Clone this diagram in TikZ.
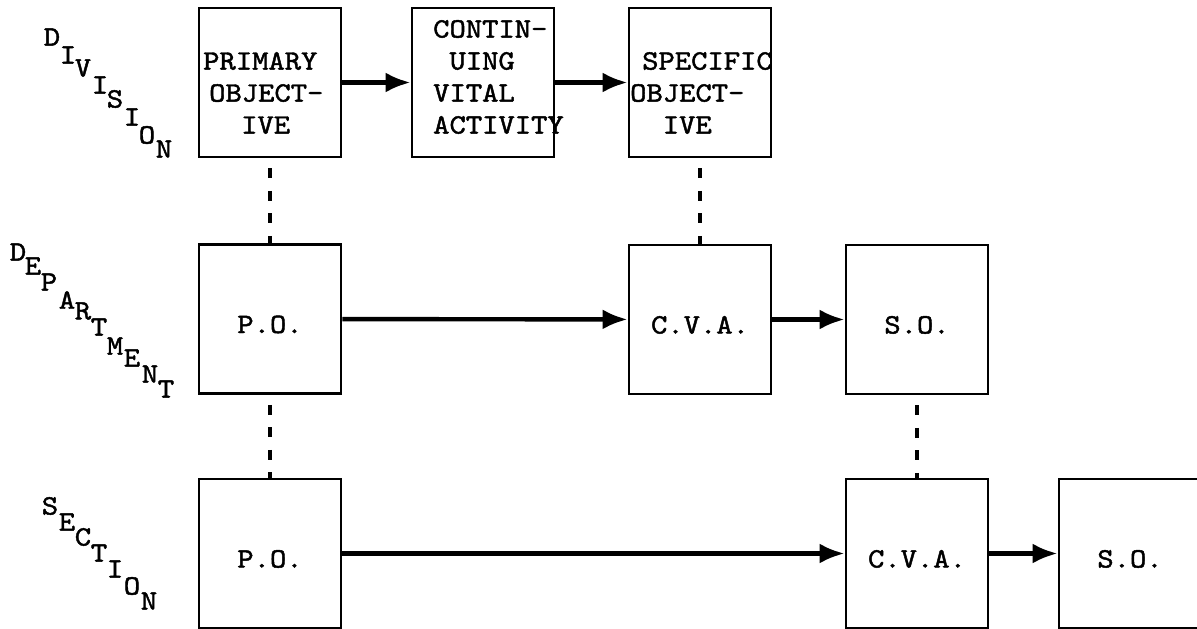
\documentclass[tikz,border=0pt]{standalone}
\usepackage{fontspec}
% typewriter face, widened to a typewriter's pitch and inked heavier
\newfontfamily\tw{lmmono10-regular}[Extension=.otf, FakeStretch=1.11, FakeBold=1.6]
\usetikzlibrary{arrows.meta}

\begin{document}
\begin{tikzpicture}[x=1pt,y=-1pt,
  every node/.style={font=\tw\fontsize{28}{32}\selectfont},
  box/.style={draw, line width=2.8pt, minimum width=142pt, minimum height=149pt,
              inner sep=0pt, align=center},
  lowtext/.style={text height=28pt, text depth=0pt},
  btext/.style={align=left, inner sep=0pt, anchor=west},
  stair/.style={inner sep=0pt},
  flow/.style={line width=4.4pt, -{Latex[length=25pt,width=20pt]}},
  link/.style={line width=3.8pt, dash pattern=on 10pt off 12.5pt, dash phase=12.5pt}
]
\useasboundingbox (0,0) rectangle (1197,629);

% ---- level labels, typed as descending staircases
\node[stair] (dv1) at (52,37)   {D};
\node[stair] (dv2) at (68,55)   {I};
\node[stair] (dv3) at (83,68)   {V};
\node[stair] (dv4) at (100,85)  {I};
\node[stair] (dv5) at (115,99)  {S};
\node[stair] (dv6) at (132,117) {I};
\node[stair] (dv7) at (147,135) {O};
\node[stair] (dv8) at (164,149) {N};

\node[stair] (dp1) at (18,252)  {D};
\node[stair] (dp2) at (33,266)  {E};
\node[stair] (dp3) at (49,282)  {P};
\node[stair] (dp4) at (67,300)  {A};
\node[stair] (dp5) at (83,311)  {R};
\node[stair] (dp6) at (99,327)  {T};
\node[stair] (dp7) at (115,346) {M};
\node[stair] (dp8) at (132,358) {E};
\node[stair] (dp9) at (150,374) {N};
\node[stair] (dp10) at (166,389) {T};

\node[stair] (sc1) at (50,506)  {S};
\node[stair] (sc2) at (67,522)  {E};
\node[stair] (sc3) at (83,537)  {C};
\node[stair] (sc4) at (99,553)  {T};
\node[stair] (sc5) at (115,569) {I};
\node[stair] (sc6) at (132,586) {O};
\node[stair] (sc7) at (149,601) {N};

% ---- division row
\node[box] (dpo)  at (270,82.5) {};
\node[box] (dcva) at (483,82.5) {};
\node[box] (dso)  at (700,82.5) {};
\node[btext] (dpot)  at (203,93) {PRIMARY\\\hspace*{6pt}OBJECT-\\\hspace*{38pt}IVE};
\node[btext] (dcvat) at (433,77) {CONTIN-\\\hspace*{16.3pt}UING\\VITAL\\ACTIVITY};
\node[btext] (dsot)  at (630,93) {\hspace*{12pt}SPECIFIC\\OBJECT-\\\hspace*{32.6pt}IVE};

% ---- department row
\node[box, lowtext] (epo)  at (270,319)   {P.O.};
\node[box, lowtext] (ecva) at (700,319.5) {C.V.A.};
\node[box, lowtext] (eso)  at (917,319.5) {S.O.};

% ---- section row
\node[box, lowtext] (spo)  at (270,553.5)  {P.O.};
\node[box, lowtext] (scva) at (917,553.5)  {C.V.A.};
\node[box, lowtext] (sso)  at (1130,553.5) {S.O.};

% ---- flow within each level
\draw[flow] (dpo) -- (dcva);
\draw[flow] (dcva) -- (dso);
\draw[flow] (epo) -- (ecva);
\draw[flow] (ecva) -- (eso);
\draw[flow] (spo) -- (scva);
\draw[flow] (scva) -- (sso);

% ---- links between levels
\draw[link] (dpo) -- (epo);
\draw[link] (epo) -- (spo);
\draw[link] (dso) -- (ecva);
\draw[link] (eso) -- (scva);
\end{tikzpicture}
\end{document}
